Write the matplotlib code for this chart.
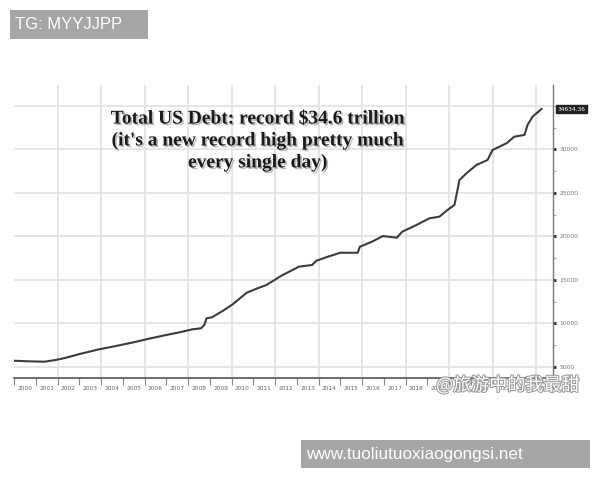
import matplotlib.pyplot as plt
import matplotlib.patheffects as pe
from matplotlib.patches import Rectangle
from matplotlib.ticker import MultipleLocator, FixedLocator, NullFormatter

# Total US debt (billions of USD)
years = [2000.0, 2000.7, 2001.4, 2001.9, 2002.4, 2003.0, 2003.9, 2004.7, 2005.5,
         2006.2, 2007.0, 2007.6, 2008.2, 2008.6, 2008.75, 2008.85, 2009.1, 2009.6,
         2010.05, 2010.7, 2011.2, 2011.6, 2012.3, 2013.1, 2013.7, 2013.9, 2014.4,
         2015.0, 2015.8, 2015.9, 2016.5, 2016.95, 2017.6, 2017.85, 2018.5, 2019.1,
         2019.56, 2019.93, 2020.25, 2020.48, 2020.8, 2021.26, 2021.77, 2022.0,
         2022.64, 2023.0, 2023.47, 2023.61, 2023.84, 2024.25]
debt = [5720, 5650, 5610, 5800, 6070, 6480, 7030, 7420, 7840,
        8250, 8680, 8980, 9330, 9450, 9830, 10600, 10710, 11450,
        12200, 13540, 14050, 14420, 15500, 16530, 16720, 17210, 17650,
        18130, 18130, 18820, 19450, 20050, 19860, 20550, 21320, 22090,
        22280, 23050, 23620, 26490, 27260, 28220, 28790, 29940,
        30710, 31470, 31670, 32820, 33770, 34650]

year_labels = [str(y) for y in range(2000, 2025)]
y_ticks = [5000, 10000, 15000, 20000, 25000, 30000]
grid_years = list(range(2002, 2025, 2))
grid_values = [5000, 10000, 15000, 20000, 25000, 30000, 35000]
last_label = "34634.36"

fig = plt.figure(figsize=(6, 4.8), dpi=100)
fig.patch.set_facecolor("white")
ax = fig.add_axes([14 / 600, 102 / 480, 539 / 600, 293 / 480])

for g in grid_years:
    ax.axvline(g, color="#e4e4e4", lw=1.3, zorder=0)
for g in grid_values:
    ax.axhline(g, color="#e4e4e4", lw=1.3, zorder=0)

ax.plot(years, debt, color="#3c3c3c", lw=1.5, zorder=3)

ax.set_xlim(2000.0, 2024.78)
ax.set_ylim(3736, 37410)

for side in ["top", "left"]:
    ax.spines[side].set_visible(False)
ax.spines["bottom"].set_color("#555555")
ax.spines["bottom"].set_linewidth(1.2)
ax.spines["right"].set_color("#777777")
ax.spines["right"].set_linewidth(1.0)

# x axis: separator ticks at year boundaries, labels centred in each year
ax.xaxis.set_major_locator(FixedLocator(list(range(2000, 2026))))
ax.xaxis.set_major_formatter(NullFormatter())
ax.xaxis.set_minor_locator(FixedLocator([y + 0.5 for y in range(2000, 2025)]))
ax.set_xticklabels(year_labels, minor=True)
ax.tick_params(axis="x", which="major", length=5, color="#888888", width=0.8)
ax.tick_params(axis="x", which="minor", length=0, pad=6, labelsize=4.2,
               labelcolor="#666666")

# y axis on the right
ax.yaxis.tick_right()
ax.set_yticks(y_ticks)
ax.set_yticklabels([str(v) for v in y_ticks])
ax.yaxis.set_minor_locator(MultipleLocator(2500))
ax.tick_params(axis="y", which="major", length=2.5, width=2, color="#333333",
               labelsize=4.3, labelcolor="#777777", pad=2)
ax.tick_params(axis="y", which="minor", length=2, width=0.8, color="#aaaaaa")

ax.annotate(last_label, xy=(1.0, debt[-1]), xycoords=("axes fraction", "data"),
            xytext=(3, 0), textcoords="offset points", va="center", ha="left",
            fontsize=4.2, color="white",
            bbox=dict(boxstyle="square,pad=0.25", fc="#222222", ec="#222222"))

fig.text(258 / 600, (480 - 141) / 480,
         "Total US Debt: record $34.6 trillion\n(it's a new record high pretty much\nevery single day)",
         ha="center", va="center", fontsize=14, fontweight="bold",
         family="Liberation Serif", color="#1a1a1a", linespacing=1.35,
         path_effects=[pe.withSimplePatchShadow(offset=(1.2, -1.2),
                                                shadow_rgbFace="#777777", alpha=0.5)])

# watermarks
fig.patches.append(Rectangle((10 / 600, (480 - 39) / 480), 138 / 600, 29 / 480,
                             transform=fig.transFigure, fc="#a6a6a6", ec="none"))
fig.text(15 / 600, (480 - 24.5) / 480, "TG: MYYJJPP", ha="left", va="center",
         fontsize=12, color="white", family="Liberation Sans")
fig.patches.append(Rectangle((301 / 600, (480 - 468) / 480), 289 / 600, 28 / 480,
                             transform=fig.transFigure, fc="#a6a6a6", ec="none"))
fig.text(306 / 600, (480 - 454) / 480, "www.tuoliutuoxiaogongsi.net", ha="left",
         va="center", fontsize=12.3, color="white", family="Liberation Sans")
fig.text(436 / 600, (480 - 385) / 480, "@旅游中的我最甜", ha="left", va="center",
         fontsize=13, color="white", family=["Noto Sans CJK SC", "DejaVu Sans"],
         path_effects=[pe.withStroke(linewidth=1.5, foreground="#9a9a9a")])

fig.savefig("out.png", dpi=100, facecolor="white")
